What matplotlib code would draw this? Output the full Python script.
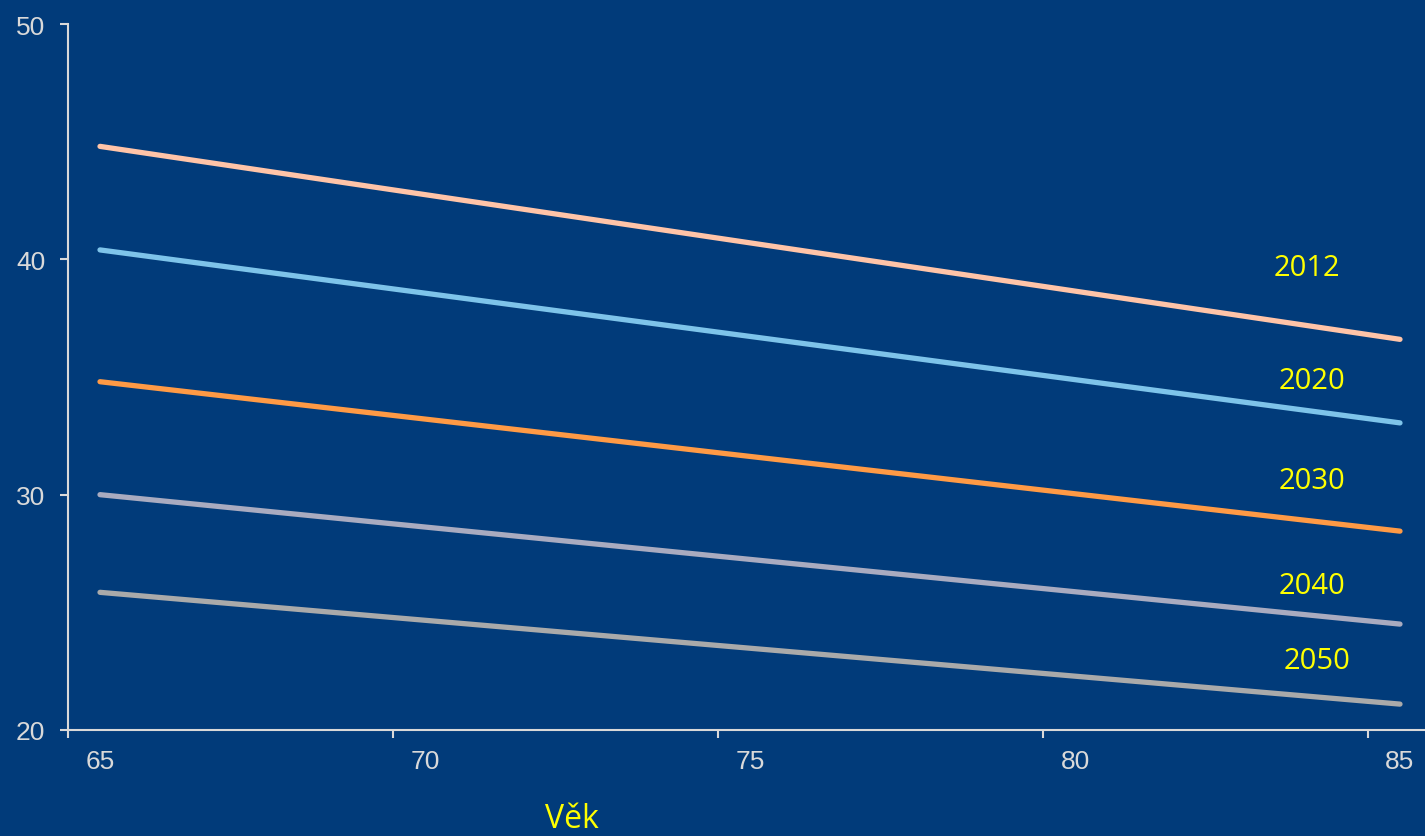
import matplotlib.pyplot as plt
from matplotlib.ticker import FixedLocator, NullFormatter

ages = [65, 85]
years = ["2012", "2020", "2030", "2040", "2050"]
v2012 = [44.8, 36.6]
v2020 = [40.4, 33.05]
v2030 = [34.8, 28.45]
v2040 = [30.0, 24.5]
v2050 = [25.85, 21.1]
x_labels = [65, 70, 75, 80, 85]
y_ticks = [20, 30, 40, 50]

series = [v2012, v2020, v2030, v2040, v2050]
colors = ["#FFC4A8", "#7EC4EA", "#FF9A45", "#A9ABC0", "#AAAAAA"]
# label anchor points (data coords) for the year tags
tag_pos = [(83.57, 39.67), (83.65, 34.87), (83.65, 30.62), (83.65, 26.16), (83.72, 22.97)]

bg = "#013B7A"
fg = "#D9D9D9"

fig = plt.figure(figsize=(14.25, 8.37), dpi=100, facecolor=bg)
ax = fig.add_axes([67.5 / 1425, 106 / 837, 1365 / 1425, 706 / 837])
ax.set_facecolor(bg)

for vals, col in zip(series, colors):
    ax.plot(ages, vals, color=col, lw=3.8, solid_capstyle="round", clip_on=False)

for (tx, ty), name in zip(tag_pos, years):
    ax.text(tx, ty, name, color="#FFFF00", fontsize=21, family="Open Sans",
            ha="center", va="center")

ax.set_xlim(64.5, 85.5)
ax.set_ylim(20, 50)

# tick marks sit between categories, labels on the categories
ax.xaxis.set_major_locator(FixedLocator([64.5, 69.5, 74.5, 79.5, 84.5]))
ax.xaxis.set_major_formatter(NullFormatter())
ax.xaxis.set_minor_locator(FixedLocator(x_labels))
ax.set_xticklabels([str(a) for a in x_labels], minor=True)
ax.tick_params(axis="x", which="major", length=6, width=1.5, color=fg, direction="out")
ax.tick_params(axis="x", which="minor", length=0, pad=14, labelsize=19, labelcolor=fg)

ax.set_yticks(y_ticks)
ax.tick_params(axis="y", length=6, width=1.5, color=fg, pad=10, labelsize=19, labelcolor=fg)

for lab in ax.get_xticklabels(minor=True) + ax.get_yticklabels():
    lab.set_family("Liberation Sans")

for side in ["top", "right"]:
    ax.spines[side].set_visible(False)
for side in ["left", "bottom"]:
    ax.spines[side].set_color(fg)
    ax.spines[side].set_linewidth(1.5)

fig.text(572 / 1425, 17 / 837, "Věk", color="#FFFF00", fontsize=23,
         family="Open Sans", ha="center", va="center")

fig.savefig("out.png", dpi=100, facecolor=bg)
